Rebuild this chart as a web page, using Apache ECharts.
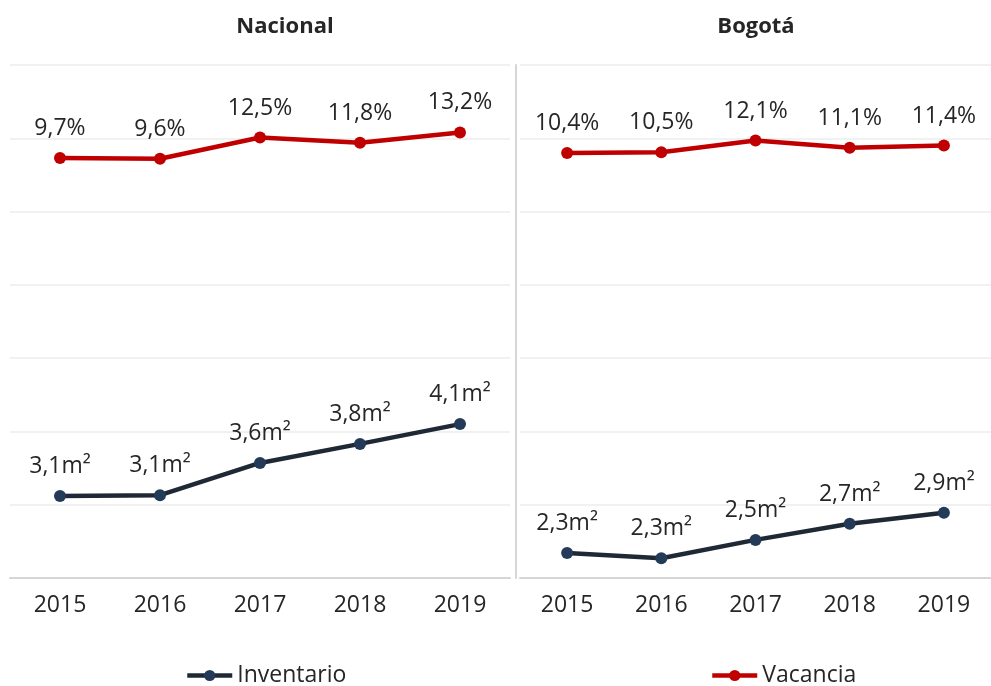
<!DOCTYPE html>
<html>
<head>
<meta charset="utf-8">
<script src="https://cdn.jsdelivr.net/npm/echarts@6/dist/echarts.min.js"></script>
<style>
  html, body { margin: 0; padding: 0; background: #fff; }
  #chart { width: 991px; height: 686px; }
</style>
</head>
<body>
<div id="chart"></div>
<script>
const years = ['2015', '2016', '2017', '2018', '2019'];
// Nacional
const nacVacancia = [9.7, 9.6, 12.5, 11.8, 13.2];
const nacInventario = [3.12, 3.13, 3.57, 3.83, 4.1];
// Bogotá
const bogVacancia = [10.4, 10.5, 12.1, 11.1, 11.4];
const bogInventario = [2.34, 2.27, 2.52, 2.74, 2.89];

const font = 'Open Sans';
const textColor = '#262626';
const red = '#c00000';
const navyLine = '#1e2935';
const navyDot = '#233a58';

function fmt(v, suffix) {
  return v.toFixed(1).replace('.', ',') + suffix;
}

function lineSeries(name, data, gridIdx, color, dot, suffix) {
  return {
    name: name,
    type: 'line',
    xAxisIndex: gridIdx,
    yAxisIndex: gridIdx * 2 + (suffix === '%' ? 1 : 0),
    data: data,
    symbol: 'circle',
    symbolSize: 12,
    lineStyle: { color: color, width: 4.5 },
    itemStyle: { color: dot },
    label: {
      show: true,
      position: 'top',
      distance: 12,
      fontFamily: font,
      fontSize: 23,
      color: textColor,
      formatter: p => fmt(p.value, suffix)
    }
  };
}

function xAxis(gridIdx) {
  return {
    type: 'category',
    gridIndex: gridIdx,
    data: years,
    axisLine: { onZero: false, lineStyle: { color: '#d6d6d6', width: 2 } },
    axisTick: { show: false },
    axisLabel: { fontFamily: font, fontSize: 23, color: textColor, margin: 16 }
  };
}

function yAxes(gridIdx) {
  return [
    {
      type: 'value', gridIndex: gridIdx, min: 2, max: 9, interval: 1,
      axisLabel: { show: false }, axisTick: { show: false },
      axisLine: gridIdx === 1
        ? { show: true, onZero: false, lineStyle: { color: '#d6d6d6', width: 2 } }
        : { show: false },
      offset: gridIdx === 1 ? 4 : 0,
      splitLine: { lineStyle: { color: '#ececec', width: 1.5 } }
    },
    {
      type: 'value', gridIndex: gridIdx, min: -47.6, max: 22.4,
      show: false, splitLine: { show: false }
    }
  ];
}

const legendBase = {
  itemWidth: 45, itemHeight: 14, itemGap: 5, top: 659,
  lineStyle: { width: 4.5 },
  textStyle: { fontFamily: font, fontSize: 23, color: textColor }
};

const chart = echarts.init(document.getElementById('chart'));
chart.setOption({
  animation: false,
  backgroundColor: '#fff',
  title: [
    { text: 'Nacional', left: 280, top: 11, textAlign: 'center',
      textStyle: { fontFamily: font, fontSize: 22, fontWeight: 'bold', color: textColor } },
    { text: 'Bogotá', left: 751, top: 11, textAlign: 'center',
      textStyle: { fontFamily: font, fontSize: 22, fontWeight: 'bold', color: textColor } }
  ],
  legend: [
    Object.assign({ data: ['Inventario'], left: 180 }, legendBase),
    Object.assign({ data: ['Vacancia'], left: 705 }, legendBase)
  ],
  grid: [
    { left: 10, width: 500, top: 65, bottom: 108 },
    { left: 520, width: 480, top: 65, bottom: 108 }
  ],
  xAxis: [xAxis(0), xAxis(1)],
  yAxis: yAxes(0).concat(yAxes(1)),
  series: [
    lineSeries('Vacancia', nacVacancia, 0, red, red, '%'),
    lineSeries('Inventario', nacInventario, 0, navyLine, navyDot, 'm²'),
    lineSeries('Vacancia', bogVacancia, 1, red, red, '%'),
    lineSeries('Inventario', bogInventario, 1, navyLine, navyDot, 'm²')
  ]
});
</script>
</body>
</html>
